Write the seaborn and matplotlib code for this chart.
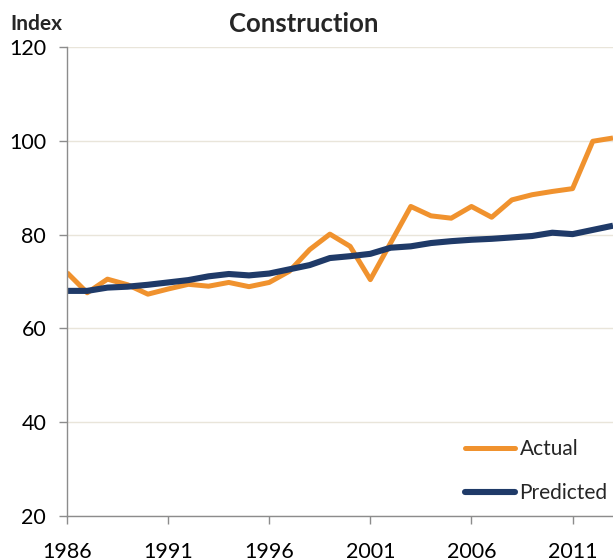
import matplotlib
matplotlib.use("Agg")
import matplotlib.pyplot as plt
import seaborn as sns
import pandas as pd

# Construction index, actual vs predicted
years = list(range(1986, 2014))
actual = [71.9, 67.6, 70.5, 69.3, 67.3, 68.4, 69.4, 69.0, 69.8, 68.9,
          69.8, 72.2, 76.8, 80.1, 77.5, 70.4, 78.2, 86.0, 84.0, 83.5,
          86.0, 83.7, 87.4, 88.5, 89.2, 89.8, 99.9, 100.6]
predicted = [68.0, 68.0, 68.7, 68.9, 69.3, 69.8, 70.3, 71.1, 71.6, 71.3,
             71.7, 72.6, 73.5, 75.0, 75.4, 75.9, 77.2, 77.5, 78.2, 78.6,
             78.9, 79.1, 79.4, 79.7, 80.4, 80.1, 81.0, 81.9]
series_names = ["Actual", "Predicted"]
series_colors = ["#F0922E", "#1F3A68"]
x_ticks = [1986, 1991, 1996, 2001, 2006, 2011]
y_ticks = [20, 40, 60, 80, 100, 120]

df = pd.DataFrame({
    "year": years * 2,
    "value": actual + predicted,
    "series": ["Actual"] * len(years) + ["Predicted"] * len(years),
})

sns.set_style("white")
plt.rcParams["font.family"] = ["Lato", "DejaVu Sans"]

fig = plt.figure(figsize=(6.13, 5.6), dpi=100)
ax = fig.add_axes([67 / 613, 44 / 560, 546 / 613, 469 / 560])

sns.lineplot(data=df, x="year", y="value", hue="series", hue_order=series_names,
             palette=series_colors, linewidth=3.8, ax=ax, legend=True)
for line, lw in zip(ax.lines, [3.6, 4.4]):
    line.set_linewidth(lw)
    line.set_solid_capstyle("butt")

ax.set_xlim(1986, 2013)
ax.set_ylim(20, 120)
ax.set_xticks(x_ticks)
ax.set_yticks(y_ticks)
ax.set_xlabel("")
ax.set_ylabel("")
ax.grid(axis="y", color="#E9E5DA", linewidth=1.0)
ax.set_axisbelow(True)

for s in ["top", "right"]:
    ax.spines[s].set_visible(False)
for s in ["left", "bottom"]:
    ax.spines[s].set_color("#8C8C8C")
    ax.spines[s].set_linewidth(1.0)

ax.tick_params(axis="y", direction="out", length=6, width=1, color="#8C8C8C",
               pad=9, labelsize=15.5, labelcolor="black", left=True)
ax.tick_params(axis="x", direction="out", length=6, width=1, color="#8C8C8C",
               pad=13, labelsize=15.5, labelcolor="black", bottom=True)

leg = ax.legend(frameon=False, fontsize=15, loc="center left",
                bbox_to_anchor=(455 / 613, 1 - 471 / 560), bbox_transform=fig.transFigure,
                handlelength=2.4, handletextpad=0.2, labelspacing=1.15,
                borderpad=0)
for h, lw in zip(leg.get_lines(), [3.6, 4.4]):
    h.set_linewidth(lw)

fig.text(304 / 613, 1 - 24 / 560, "Construction", ha="center", va="center",
         fontsize=18.5, fontweight="bold")
fig.text(10 / 613, 1 - 24 / 560, "Index", ha="left", va="center",
         fontsize=15, fontweight="bold")

fig.savefig("out.png", dpi=100)
